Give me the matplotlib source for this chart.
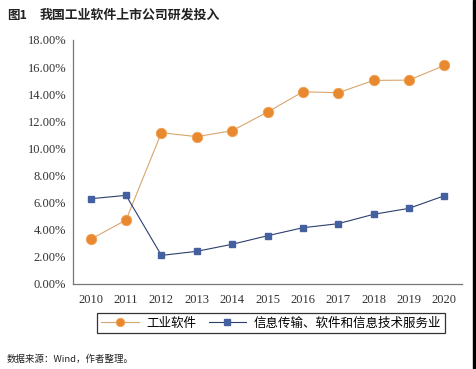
import matplotlib.pyplot as plt
from matplotlib.patches import Rectangle

# 数据
years = ['2010', '2011', '2012', '2013', '2014', '2015', '2016', '2017', '2018', '2019', '2020']
industrial_software = [3.30, 4.72, 11.16, 10.87, 11.31, 12.68, 14.18, 14.11, 15.02, 15.04, 16.12]
it_services = [6.29, 6.54, 2.11, 2.41, 2.93, 3.56, 4.15, 4.45, 5.14, 5.58, 6.51]
y_ticks = [0, 2, 4, 6, 8, 10, 12, 14, 16, 18]

cjk = ['Noto Sans CJK SC', 'DejaVu Sans']
serif = ['Liberation Serif', 'DejaVu Serif']

fig = plt.figure(figsize=(4.76, 3.69), dpi=100)
ax = fig.add_axes([73 / 476, 1 - 284 / 369, (462 - 73) / 476, (284 - 40) / 369])

x = range(len(years))
ax.plot(x, industrial_software, color='#D9A56E', lw=0.8, marker='o', markersize=7.5,
        markerfacecolor='#E8892F', markeredgecolor='#F0A050', markeredgewidth=0.6, label='工业软件')
ax.plot(x, it_services, color='#2E3F6E', lw=0.8, marker='s', markersize=5,
        markerfacecolor='#45609E', markeredgecolor='#45609E', label='信息传输、软件和信息技术服务业')

ax.set_xlim(-0.5, len(years) - 0.5)
ax.set_ylim(0, 18)
ax.set_xticks(list(x))
ax.set_xticklabels(years, family=serif, fontsize=9, color='#333333')
ax.set_yticks(y_ticks)
ax.set_yticklabels([f'{v:.2f}%' for v in y_ticks], family=serif, fontsize=9, color='#333333')
ax.tick_params(length=0, pad=5)
ax.tick_params(axis='x', pad=7)

for side in ['top', 'right']:
    ax.spines[side].set_visible(False)
for side in ['left', 'bottom']:
    ax.spines[side].set_color('#777777')
    ax.spines[side].set_linewidth(0.9)

leg = fig.legend(loc='center', bbox_to_anchor=(271 / 476, 1 - 323 / 369), ncol=2,
                 prop={'family': cjk, 'size': 9}, frameon=True, fancybox=False,
                 edgecolor='black', handlelength=3.0, columnspacing=1.0,
                 borderpad=0.3, handletextpad=0.6, markerscale=0.8)
leg.get_frame().set_linewidth(0.9)

fig.text(7 / 476, 1 - 15 / 369, '图1', family=cjk, fontsize=9, fontweight='bold',
         va='center', ha='left', color='#222222')
fig.text(40 / 476, 1 - 15 / 369, '我国工业软件上市公司研发投入', family=cjk, fontsize=9.3,
         fontweight='bold', va='center', ha='left', color='#222222')
fig.text(7 / 476, 1 - 359 / 369, '数据来源：Wind，作者整理。', family=cjk, fontsize=6.8,
         va='center', ha='left', color='#222222')

# 右侧黑边
fig.patches.append(Rectangle((473 / 476, 0), 3 / 476, 1, transform=fig.transFigure,
                             color='black', zorder=0))

fig.savefig('out.png', dpi=100)
